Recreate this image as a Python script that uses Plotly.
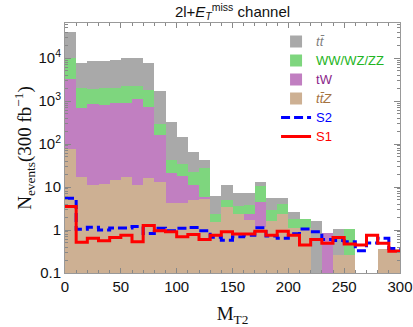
import plotly.graph_objects as go

bin_edges = list(range(0, 310, 10))
bin_centers = [e + 5 for e in bin_edges[:-1]]

ttZ = [76, 17, 11, 12, 14.6, 17, 11, 16, 13, 4.2, 4.3, 5, 5.2, 1.56, 3.5, 2.4, 1.7, 1.2, 1.65, 2.4,
       1.1, 1.1, 0, 0, 0.26, 0.26, 0, 0, 0.37, 0.37]
tW = [3124, 683, 829, 788, 875, 893, 1089, 724, 149, 16.8, 13.7, 6, 0.8, 0, 0, 0, 0.7, 3.2, 0, 0,
      0, 0, 0, 0.83, 0, 0, 0, 0, 0, 0]
WW = [6800, 1300, 1110, 1200, 1110, 1290, 1100, 1060, 138, 21, 17, 11, 21, 0.84, 1.5, 1.2, 1.4, 6.2, 1.35, 1.6,
      0.7, 0.7, 0, 0, 0, 0.79, 0, 0, 0, 0]
tt = [30000, 5800, 6550, 6500, 7000, 7600, 7600, 5800, 1440, 288, 113, 44, 15, 3.8, 6, 3.5, 3.3, 2.2, 2.5, 1.5,
      0.8, 0, 1.6, 0, 0.79, 0, 0, 0, 0, 0]
S1 = [3.5, 0.52, 0.64, 0.56, 0.67, 0.76, 0.53, 1.27, 0.96, 0.91, 0.70, 0.79, 0.60, 0.76, 0.91, 0.81, 0.81, 0.94,
      0.76, 0.93, 0.76, 0.45, 0.60, 0.49, 0.67, 0.47, 0.45, 0.76, 0.49, 0.32]
S2 = [5.5, 1.04, 1.16, 1.0, 1.12, 1.12, 1.2, 0.83, 1.1, 0.96, 1.1, 1.15, 0.96, 0.68, 0.58, 0.7, 0.76, 1.13,
      0.73, 0.64, 0.82, 1.05, 0.91, 0.6, 0.57, 0.53, 0.33, 0.5, 0.64, 0.37]

y_tickvals = [0.1, 1, 10, 100, 1000, 10000]
y_ticktext = ["0.1", "1", "10", "10<sup>2</sup>", "10<sup>3</sup>", "10<sup>4</sup>"]
x_tickvals = [0, 50, 100, 150, 200, 250, 300]


def legend_label(text, color):
    return f"<span style='color:{color};font-size:13px'>{text}</span>"


fig = go.Figure()

bar_specs = [
    (ttZ, legend_label("<i>tt̄Z</i>", "#a5733f"), "#cdb093", 4),
    (tW, legend_label("tW", "#8a1f8a"), "#c17fc1", 3),
    (WW, legend_label("WW/WZ/ZZ", "#22b422"), "#7ed67e", 2),
    (tt, legend_label("<i>tt̄</i>", "#808080"), "#a9a9a9", 1),
]
for vals, name, color, rank in bar_specs:
    fig.add_trace(go.Bar(x=bin_centers, y=vals, name=name, marker=dict(color=color, line=dict(width=0)),
                         width=10, legendrank=rank))

fig.add_trace(go.Scatter(x=bin_edges, y=S2 + [S2[-1]], mode="lines", line_shape="hv",
                         line=dict(color="#0000ff", width=3, dash="9px,4px"),
                         name=legend_label("S2", "#0000ff"), legendrank=5))
fig.add_trace(go.Scatter(x=bin_edges, y=S1 + [S1[-1]], mode="lines", line_shape="hv",
                         line=dict(color="#ff0000", width=3),
                         name=legend_label("S1", "#ff0000"), legendrank=6))

axis_common = dict(showline=True, linecolor="#999999", linewidth=1, mirror="allticks",
                   ticks="inside", tickcolor="#888888", showgrid=False, zeroline=False, automargin=False,
                   tickfont=dict(family="Liberation Sans, Arial", size=15, color="#111111"))

fig.update_layout(
    barmode="stack", bargap=0,
    width=413, height=327,
    margin=dict(l=65, r=13, t=23, b=54),
    paper_bgcolor="white", plot_bgcolor="white",
    title=dict(text="2l+<i>E</i><sub><i>T</i></sub><sup>miss</sup> channel", x=0.5, xref="paper",
               xanchor="center", y=1 - 12 / 327, yanchor="middle",
               font=dict(family="Liberation Sans, Arial", size=15, color="#111111")),
    legend=dict(x=0.63, xanchor="left", y=0.984, yanchor="top", traceorder="normal",
                bgcolor="rgba(0,0,0,0)", font=dict(family="Liberation Sans, Arial", size=11),
                tracegroupgap=0),
    xaxis=dict(range=[0, 300], tickvals=x_tickvals, ticklen=5,
               minor=dict(ticks="inside", dtick=10, ticklen=3, tickcolor="#888888"),
               title=dict(text="M<sub>T2</sub>", font=dict(family="Liberation Serif, Times New Roman", size=19,
                                                         color="#111111"), standoff=20),
               **axis_common),
    yaxis=dict(type="log", range=[-1, 4.815], tickvals=y_tickvals, ticktext=y_ticktext, ticklen=6,
               minor=dict(ticks="inside", ticklen=3, tickcolor="#888888", dtick="D1"),
               title=dict(text="N<sub>events</sub>(300 fb<sup>−1</sup>)",
                          font=dict(family="Liberation Serif, Times New Roman", size=19, color="#111111"),
                          standoff=0),
               **axis_common),
)

fig.write_html("out.html", config={"displayModeBar": False},
               post_script="document.body.style.margin='0px';")
